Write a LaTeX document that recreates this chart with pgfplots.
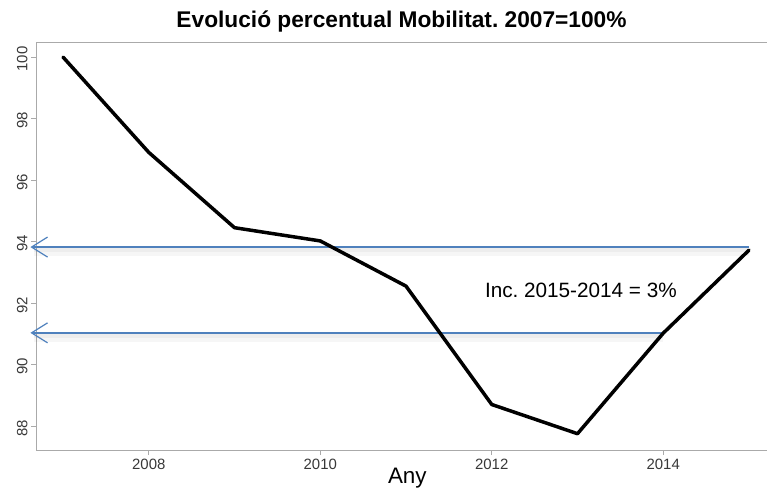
\documentclass[border=0pt]{standalone}
\usepackage{pgfplots}
\pgfplotsset{compat=1.18}
\usepackage{fontspec}
\setmainfont{Liberation Sans}
\usetikzlibrary{arrows.meta}
\frenchspacing

\definecolor{refblue}{RGB}{79,129,189}
\definecolor{axgray}{RGB}{170,170,170}

\pgfplotstableread{
any  val
2007 100.00
2008 96.90
2009 94.45
2010 94.02
2011 92.55
2012 88.70
2013 87.75
2014 91.02
2015 93.72
}\mobilitat

\begin{document}
\begin{tikzpicture}
\begin{axis}[
    scale only axis,
    width=731bp, height=408bp,
    xmin=2006.685, xmax=2015.21,
    ymin=87.22, ymax=100.49,
    axis x line*=box,
    axis y line*=left,
    axis line style={axgray, line width=0.9bp},
    xtick={2008,2010,2012,2014},
    ytick={88,90,92,94,96,98,100},
    xtick pos=bottom,
    ytick pos=left,
    tick align=outside,
    major tick length=5bp,
    tick style={axgray, line width=0.8bp},
    x tick label style={font=\fontsize{15}{15}\selectfont, text=black!78, yshift=-1bp},
    y tick label style={font=\fontsize{15}{15}\selectfont, text=black!78, rotate=90, anchor=south, xshift=-2bp},
    /pgf/number format/assume math mode=true,
    xticklabel={\pgfmathprintnumber[1000 sep={}]{\tick}},
    clip=false,
]
% soft shadows under the blue reference lines
\addplot[draw=black, draw opacity=0.035, line width=8bp, yshift=-5bp, forget plot]
    coordinates {(2006.66,93.82)(2015.0,93.82)};
\addplot[draw=black, draw opacity=0.035, line width=4bp, yshift=-3bp, forget plot]
    coordinates {(2006.66,93.82)(2015.0,93.82)};
\addplot[draw=black, draw opacity=0.035, line width=8bp, yshift=-5bp, forget plot]
    coordinates {(2006.66,91.03)(2014.0,91.03)};
\addplot[draw=black, draw opacity=0.035, line width=4bp, yshift=-3bp, forget plot]
    coordinates {(2006.66,91.03)(2014.0,91.03)};
% blue reference lines with open arrowheads
\addplot[draw=refblue, line width=1.3bp, {Straight Barb[length=16bp, width=20bp, line width=1.2bp]}-, forget plot]
    coordinates {(2006.62,93.82)(2015.0,93.82)};
\addplot[draw=refblue, line width=1.3bp, {Straight Barb[length=16bp, width=20bp, line width=1.2bp]}-, forget plot]
    coordinates {(2006.62,91.03)(2014.0,91.03)};
% series
\addplot[draw=black, line width=3.5bp, line join=round, line cap=round] table[x=any, y=val] {\mobilitat};

\node[font=\fontsize{20.8}{21}\selectfont] at (axis cs:2013.04,92.42) {Inc. 2015-2014 = 3\%};
\node[font=\bfseries\fontsize{22.8}{23}\selectfont, anchor=center] at (axis description cs:0.5,1.049) {Evolució percentual Mobilitat. 2007=100\%};
\node[font=\fontsize{22.5}{23}\selectfont, anchor=center] at (axis description cs:0.508,-0.07) {Any};
\end{axis}
\pgfresetboundingbox
\useasboundingbox (-36bp,-42bp) rectangle (731bp,450bp);
\end{tikzpicture}
\end{document}
